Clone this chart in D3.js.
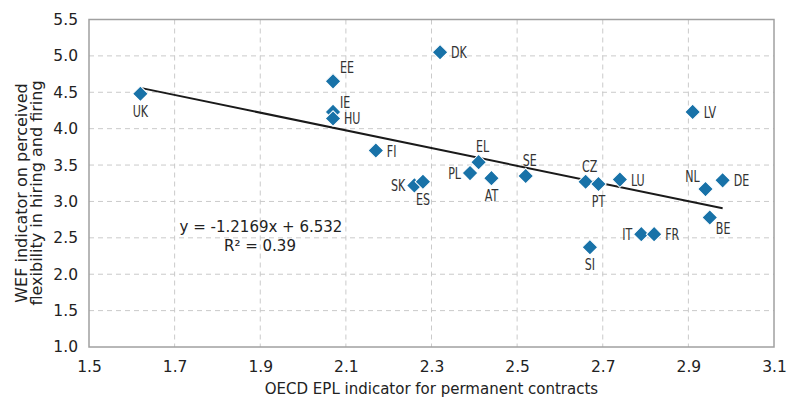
<!DOCTYPE html>
<html><head><meta charset="utf-8">
<script src="https://cdn.jsdelivr.net/npm/d3@7"></script>
<style>
body{margin:0;background:#fff;}
text{font-family:"DejaVu Sans",sans-serif;fill:#222;}
.lab{font-family:"DejaVu Sans",sans-serif;font-size:15px;fill:#333;}
</style></head>
<body><svg id="c" width="787" height="398"></svg>
<script>
const countries = ["UK","EE","IE","HU","FI","DK","SK","ES","PL","EL","AT","SE","CZ","PT","LU","SI","IT","FR","LV","NL","DE","BE"];
const eplValues = [1.62,2.07,2.07,2.07,2.17,2.32,2.26,2.28,2.39,2.41,2.44,2.52,2.66,2.69,2.74,2.67,2.79,2.82,2.91,2.94,2.98,2.95];
const wefValues = [4.48,4.65,4.23,4.14,3.70,5.05,3.22,3.27,3.39,3.54,3.32,3.35,3.27,3.24,3.30,2.37,2.55,2.55,4.23,3.17,3.29,2.78];
// label placement relative to its point
const labelPos = ["below","aboveRight","upRight","right","right","right","left","below","left","above","below","above","above","below","right","below","left","right","right","aboveLeft","right","belowRight"];
const xTicks = [1.5,1.7,1.9,2.1,2.3,2.5,2.7,2.9,3.1];
const yTicks = [1.0,1.5,2.0,2.5,3.0,3.5,4.0,4.5,5.0,5.5];
const slope = -1.2169, intercept = 6.532, rSquared = 0.39;
const trendRange = [1.62, 2.98];

const svg = d3.select("#c");
const m = {l:89, r:774, t:19.5, b:347};
const x = d3.scaleLinear().domain([1.5,3.1]).range([m.l,m.r]);
const y = d3.scaleLinear().domain([1.0,5.5]).range([m.b,m.t]);

// grid
svg.append("g").selectAll("line").data(xTicks.slice(1,-1)).join("line")
  .attr("x1",d=>x(d)).attr("x2",d=>x(d)).attr("y1",m.t).attr("y2",m.b)
  .attr("stroke","#cacaca").attr("stroke-dasharray","5,4");
svg.append("g").selectAll("line").data(yTicks.slice(1,-1)).join("line")
  .attr("y1",d=>y(d)).attr("y2",d=>y(d)).attr("x1",m.l).attr("x2",m.r)
  .attr("stroke","#cacaca").attr("stroke-dasharray","5,4");
// border
svg.append("rect").attr("x",m.l).attr("y",m.t).attr("width",m.r-m.l).attr("height",m.b-m.t)
  .attr("fill","none").attr("stroke","#a0a0a0").attr("stroke-width",1.5);

// axes labels
const xAxis = d3.axisBottom(x).tickValues(xTicks).tickSize(0).tickPadding(14).tickFormat(d3.format(".1f"));
const gx = svg.append("g").attr("transform",`translate(0,${m.b})`).call(xAxis);
gx.select(".domain").remove();
gx.selectAll("text").style("font-family","DejaVu Sans").style("font-size","15.5px").attr("fill","#222");
const yAxis = d3.axisLeft(y).tickValues(yTicks).tickSize(0).tickPadding(11).tickFormat(d3.format(".1f"));
const gy = svg.append("g").attr("transform",`translate(${m.l},0)`).call(yAxis);
gy.select(".domain").remove();
gy.selectAll("text").style("font-family","DejaVu Sans").style("font-size","15.5px").attr("fill","#222");

// titles
svg.append("text").attr("x",(m.l+m.r)/2).attr("y",393.5).attr("text-anchor","middle")
  .style("font-size","15px").text("OECD EPL indicator for permanent contracts");
const yt = svg.append("text").attr("transform",`translate(27,193) rotate(-90)`).attr("text-anchor","middle").style("font-size","16px");
yt.append("tspan").attr("x",0).attr("dy",0).text("WEF indicator on perceived");
yt.append("tspan").attr("x",0).attr("dy",14.5).text("flexibility in hiring and firing");

// trendline
svg.append("line").attr("x1",x(trendRange[0])).attr("y1",y(slope*trendRange[0]+intercept))
  .attr("x2",x(trendRange[1])).attr("y2",y(slope*trendRange[1]+intercept))
  .attr("stroke","#1a1a1a").attr("stroke-width",2);

// points
const data = countries.map((c,i)=>({c, x:eplValues[i], y:wefValues[i], p:labelPos[i]}));
const sym = d3.symbol().type(d3.symbolSquare).size(121);
svg.append("g").selectAll("path").data(data).join("path")
  .attr("d",sym).attr("transform",d=>`translate(${x(d.x)},${y(d.y)}) rotate(45)`)
  .attr("fill","#1872a8").attr("stroke","#fff").attr("stroke-width",1);

// labels (narrow face emulated by horizontal compression)
const off = {
  below:[0,23,"middle"], above:[4,-10,"middle"], right:[11,6,"start"], left:[-9,6,"end"],
  aboveRight:[7,-8,"start"], upRight:[7,-4,"start"], aboveLeft:[-13,-7,"middle"], belowRight:[6,17,"start"]
};
svg.append("g").selectAll("text").data(data).join("text").attr("class","lab")
  .attr("transform",d=>`translate(${x(d.x)+off[d.p][0]},${y(d.y)+off[d.p][1]}) scale(0.74,1)`)
  .attr("text-anchor",d=>off[d.p][2]).text(d=>d.c);

// equation
svg.append("text").attr("x",261).attr("y",232).attr("text-anchor","middle").style("font-size","15px")
  .text(`y = ${slope}x + ${intercept}`);
svg.append("text").attr("x",260).attr("y",251).attr("text-anchor","middle").style("font-size","15px")
  .text(`R² = ${rSquared}`);
</script></body></html>
